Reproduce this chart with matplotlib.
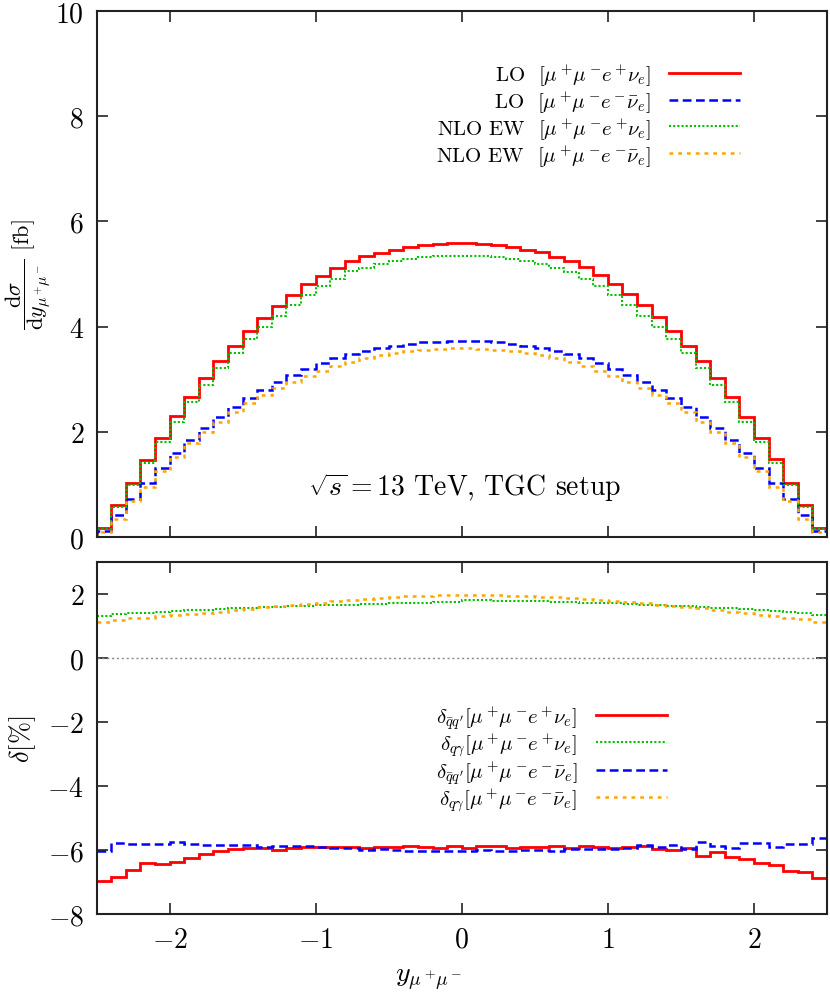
import numpy as np
import matplotlib
matplotlib.use("Agg")
import matplotlib.pyplot as plt

plt.rcParams["font.family"] = "serif"
plt.rcParams["font.serif"] = ["cmr10", "DejaVu Serif"]
plt.rcParams["mathtext.fontset"] = "cm"
plt.rcParams["axes.formatter.use_mathtext"] = True
plt.rcParams["axes.unicode_minus"] = True

# bin edges of y_{mu+mu-}
edges = np.round(np.linspace(-2.5, 2.5, 51), 2)

# top panel: dsigma/dy [fb]
lo_plus = [0.18, 0.60, 1.03, 1.47, 1.89, 2.30, 2.67, 3.02, 3.35, 3.64,
           3.92, 4.17, 4.40, 4.61, 4.81, 4.97, 5.12, 5.24, 5.34, 5.40,
           5.46, 5.51, 5.55, 5.57, 5.58,
           5.58, 5.57, 5.55, 5.51, 5.46, 5.41, 5.33, 5.24, 5.13, 4.98,
           4.81, 4.62, 4.41, 4.18, 3.92, 3.64, 3.35, 3.02, 2.67, 2.28,
           1.89, 1.48, 1.03, 0.60, 0.18]
lo_minus = [0.12, 0.41, 0.73, 1.02, 1.32, 1.60, 1.85, 2.08, 2.28, 2.47,
            2.64, 2.80, 2.94, 3.08, 3.19, 3.30, 3.40, 3.48, 3.54, 3.59,
            3.64, 3.67, 3.70, 3.71, 3.73,
            3.73, 3.72, 3.70, 3.67, 3.64, 3.59, 3.54, 3.48, 3.40, 3.30,
            3.19, 3.08, 2.94, 2.80, 2.64, 2.47, 2.28, 2.08, 1.85, 1.60,
            1.32, 1.02, 0.73, 0.41, 0.12]
nlo_plus = [0.15, 0.57, 0.98, 1.41, 1.81, 2.19, 2.56, 2.89, 3.21, 3.49,
            3.76, 3.99, 4.21, 4.41, 4.60, 4.77, 4.91, 5.05, 5.11, 5.19,
            5.24, 5.28, 5.32, 5.34, 5.35,
            5.35, 5.34, 5.32, 5.28, 5.24, 5.19, 5.12, 5.04, 4.91, 4.77,
            4.60, 4.41, 4.21, 3.99, 3.76, 3.49, 3.21, 2.89, 2.56, 2.19,
            1.81, 1.41, 0.98, 0.57, 0.15]
nlo_minus = [0.10, 0.35, 0.68, 0.95, 1.26, 1.52, 1.78, 2.00, 2.19, 2.38,
             2.54, 2.70, 2.83, 2.95, 3.07, 3.16, 3.26, 3.33, 3.40, 3.46,
             3.50, 3.54, 3.56, 3.57, 3.59,
             3.59, 3.58, 3.56, 3.54, 3.50, 3.46, 3.40, 3.33, 3.26, 3.16,
             3.07, 2.95, 2.83, 2.70, 2.54, 2.38, 2.19, 2.00, 1.78, 1.52,
             1.26, 0.95, 0.68, 0.35, 0.10]

# bottom panel: relative corrections [%]
d_qq_plus = [-6.98, -6.84, -6.62, -6.40, -6.45, -6.38, -6.24, -6.13, -6.04, -5.98,
             -5.94, -5.93, -5.99, -5.95, -5.92, -5.90, -5.90, -5.92, -5.93, -5.92,
             -5.91, -5.87, -5.91, -5.94, -5.86,
             -5.94, -5.87, -5.87, -5.94, -5.90, -5.91, -5.89, -5.94, -5.86, -5.91,
             -5.94, -5.92, -5.89, -5.96, -6.01, -5.94, -6.19, -6.06, -6.23, -6.27,
             -6.41, -6.46, -6.65, -6.68, -6.86]
d_qg_plus = [1.31, 1.37, 1.40, 1.42, 1.44, 1.47, 1.49, 1.50, 1.53, 1.55,
             1.57, 1.59, 1.60, 1.62, 1.63, 1.65, 1.66, 1.67, 1.68, 1.69,
             1.71, 1.72, 1.73, 1.75, 1.76,
             1.80, 1.80, 1.79, 1.79, 1.77, 1.77, 1.76, 1.75, 1.73, 1.72,
             1.71, 1.69, 1.67, 1.66, 1.64, 1.62, 1.60, 1.57, 1.55, 1.53,
             1.50, 1.48, 1.44, 1.41, 1.33]
d_qq_minus = [-6.04, -5.78, -5.81, -5.80, -5.81, -5.74, -5.82, -5.84, -5.84, -5.84,
              -5.85, -5.92, -5.88, -5.88, -5.89, -5.91, -5.93, -5.93, -5.99, -5.98,
              -6.01, -6.03, -6.03, -6.03, -6.04,
              -6.04, -6.01, -6.02, -6.04, -6.01, -6.00, -6.04, -5.96, -5.96, -5.96,
              -5.97, -5.95, -5.84, -5.90, -5.85, -5.96, -5.74, -5.87, -5.93, -5.78,
              -5.78, -5.91, -5.81, -5.81, -5.64]
d_qg_minus = [1.13, 1.20, 1.24, 1.26, 1.30, 1.33, 1.37, 1.41, 1.45, 1.49,
              1.54, 1.58, 1.61, 1.65, 1.69, 1.73, 1.78, 1.82, 1.85, 1.88,
              1.91, 1.93, 1.95, 1.96, 1.975,
              1.975, 1.975, 1.96, 1.95, 1.94, 1.92, 1.90, 1.87, 1.84, 1.82,
              1.79, 1.76, 1.71, 1.67, 1.63, 1.59, 1.55, 1.50, 1.45, 1.40,
              1.35, 1.30, 1.26, 1.21, 1.14]

RED, BLUE, GREEN, ORANGE = "#ff0000", "#0000ff", "#00c000", "#ffa500"
sty_red = dict(color=RED, lw=2.0, ls="-")
sty_blue = dict(color=BLUE, lw=1.8, ls=(0, (3.5, 1.8)))
sty_green = dict(color=GREEN, lw=1.5, ls=(0, (1, 1)))
sty_orange = dict(color=ORANGE, lw=1.8, ls=(0, (1.5, 2.0)))

pp = r"[\mu^+\!\mu^-\!e^+\!\nu_e]"
pm = r"[\mu^+\!\mu^-\!e^-\!\bar{\nu}_e]"

fig = plt.figure(figsize=(8.3, 9.95), dpi=100)
ax1 = fig.add_axes([96.5 / 830, 1 - 538 / 995, 730.5 / 830, 526 / 995])
ax2 = fig.add_axes([96.5 / 830, 1 - 915 / 995, 730.5 / 830, 352 / 995])

ax1.stairs(lo_plus, edges, label=r"LO  $%s$" % pp, **sty_red)
ax1.stairs(lo_minus, edges, label=r"LO  $%s$" % pm, **sty_blue)
ax1.stairs(nlo_plus, edges, label=r"NLO EW  $%s$" % pp, **sty_green)
ax1.stairs(nlo_minus, edges, label=r"NLO EW  $%s$" % pm, **sty_orange)

ax2.axhline(0, color="#888888", lw=1.0, ls=(0, (1.5, 2)))
ax2.stairs(d_qq_plus, edges, baseline=None,
           label=r"$\delta_{\bar{q}q'}%s$" % pp, **sty_red)
ax2.stairs(d_qg_plus, edges, baseline=None,
           label=r"$\delta_{q\gamma}%s$" % pp, **sty_green)
ax2.stairs(d_qq_minus, edges, baseline=None,
           label=r"$\delta_{\bar{q}q'}%s$" % pm, **sty_blue)
ax2.stairs(d_qg_minus, edges, baseline=None,
           label=r"$\delta_{q\gamma}%s$" % pm, **sty_orange)

for ax in (ax1, ax2):
    ax.set_xlim(-2.5, 2.5)
    ax.set_xticks([-2, -1, 0, 1, 2])
    ax.tick_params(direction="in", length=8, width=1.2, top=True, right=True,
                   labelsize=20, colors="#222222", labelcolor="black", pad=9)
    for sp in ax.spines.values():
        sp.set_linewidth(1.5)
        sp.set_color("#222222")

ax1.set_ylim(0, 10)
ax1.set_yticks([0, 2, 4, 6, 8, 10])
ax1.tick_params(labelbottom=False)
ax2.set_ylim(-8, 3)
ax2.set_yticks([-8, -6, -4, -2, 0, 2])

ax1.set_ylabel(r"$\dfrac{\mathrm{d}\sigma}{\mathrm{d}y_{\mu^+\!\mu^-}}$ [fb]", fontsize=16)
ax1.yaxis.set_label_coords(-0.06, 0.5)
ax2.set_ylabel(r"$\delta[\%]$", fontsize=19)
ax2.yaxis.set_label_coords(-0.08, 0.5)
ax2.set_xlabel(r"$y_{\mu^+\!\mu^-}$", fontsize=20)
ax2.xaxis.set_label_coords(0.455, -0.145)

ax1.text(0.504, 0.095, r"$\sqrt{s} = 13$ TeV, TGC setup", transform=ax1.transAxes,
         ha="center", va="center", fontsize=20)

leg1 = ax1.legend(loc="upper right", bbox_to_anchor=(0.881, 0.905), frameon=False,
                  markerfirst=False, fontsize=15, handlelength=3.4, labelspacing=0.05,
                  handletextpad=0.9, borderaxespad=0, borderpad=0)
leg1._legend_box.align = "right"

leg2 = ax2.legend(loc="upper right", bbox_to_anchor=(0.781, 0.6), frameon=False,
                  markerfirst=False, fontsize=15, handlelength=3.4, labelspacing=0.0,
                  handletextpad=0.9, borderaxespad=0, borderpad=0)
leg2._legend_box.align = "right"

fig.savefig("out.png", dpi=100)
